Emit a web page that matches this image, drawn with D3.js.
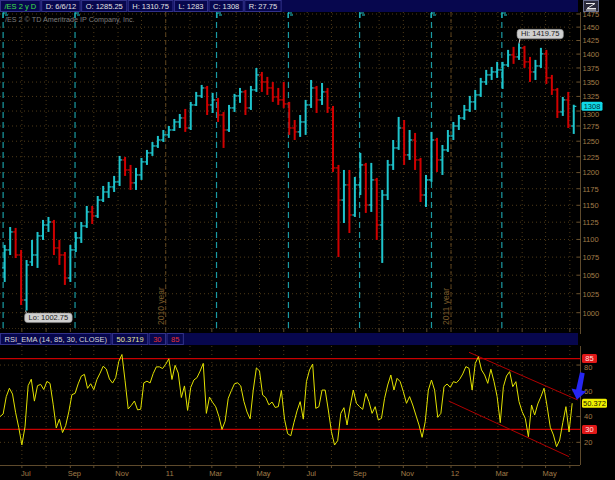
<!DOCTYPE html>
<html><head><meta charset="utf-8">
<script src="https://cdn.jsdelivr.net/npm/d3@7"></script>
<style>
html,body{margin:0;padding:0;background:#000;}
svg{display:block;font-family:"Liberation Sans",Arial,sans-serif;}
</style></head><body>
<svg id="c" width="615" height="480"></svg>
<script>
// ---------- DATA ----------
const firstBarMid = "2010-06-09"; // Wednesday of first weekly bar
const opens = [1060.0,1085.1,1110.8,1078.0,1016.7,1068.2,1078.0,1105.1,1120.9,1125.3,1087.9,1078.0,1046.2,1085.1,1102.2,1119.5,1140.1,1134.2,1157.9,1170.1,1177.8,1185.5,1219.9,1204.1,1184.0,1196.3,1216.8,1231.1,1242.3,1252.0,1260.3,1268.4,1281.7,1288.4,1271.7,1310.4,1325.9,1339.7,1310.4,1319.0,1293.4,1268.4,1305.3,1325.9,1332.8,1305.3,1336.3,1362.6,1350.2,1339.7,1324.1,1319.0,1312.1,1271.7,1265.2,1281.7,1310.4,1339.7,1319.0,1332.8,1301.9,1207.3,1157.9,1180.9,1135.6,1180.9,1212.0,1150.5,1188.6,1120.9,1165.5,1212.0,1239.1,1271.7,1227.9,1252.0,1219.9,1165.5,1188.6,1252.0,1219.9,1235.9,1258.6,1275.0,1288.4,1301.9,1315.6,1327.6,1350.2,1362.6,1367.9,1371.5,1380.4,1398.6,1394.9,1411.4,1385.9,1367.9,1378.6,1400.4,1357.3,1336.3,1298.5,1319.0,1275.0];
const highs = [1092.2,1118.0,1116.6,1085.1,1071.0,1099.3,1110.8,1128.3,1132.7,1128.3,1099.3,1082.2,1092.2,1110.8,1125.3,1149.0,1149.0,1164.0,1179.3,1185.5,1194.8,1226.3,1224.7,1212.0,1207.3,1223.1,1235.9,1248.7,1258.6,1268.4,1275.0,1286.7,1295.1,1303.6,1315.6,1332.8,1345.0,1343.2,1331.1,1322.4,1298.5,1310.4,1329.4,1339.7,1336.3,1343.2,1375.0,1367.9,1359.1,1350.2,1339.7,1350.2,1315.6,1285.0,1293.4,1319.0,1353.7,1343.2,1348.4,1339.7,1308.7,1212.0,1204.1,1204.1,1193.2,1231.1,1215.2,1215.2,1191.7,1173.2,1219.9,1252.0,1290.1,1285.0,1268.4,1263.5,1223.1,1196.3,1265.2,1255.4,1243.9,1268.4,1281.7,1293.4,1310.4,1325.9,1336.3,1357.3,1371.5,1376.8,1385.9,1385.9,1407.7,1413.2,1419.75,1415.1,1394.9,1389.5,1411.4,1407.7,1362.6,1339.7,1324.1,1332.8,1310.75];
const lows = [1040.8,1078.0,1073.8,1010.1,1002.75,1062.7,1060.0,1099.3,1110.8,1078.0,1064.1,1036.8,1040.8,1082.2,1095.0,1116.6,1122.4,1131.2,1154.9,1161.0,1170.1,1179.3,1194.8,1173.2,1173.2,1188.6,1212.0,1226.3,1239.1,1248.7,1255.4,1266.8,1271.7,1265.2,1268.4,1308.7,1322.4,1293.4,1296.8,1281.7,1239.1,1265.2,1298.5,1313.9,1293.4,1301.9,1332.8,1332.8,1327.6,1315.6,1310.4,1305.3,1260.3,1252.0,1257.0,1260.3,1305.3,1296.8,1310.4,1296.8,1201.0,1075.1,1123.8,1109.3,1132.7,1165.5,1138.6,1140.1,1099.3,1066.9,1157.9,1204.1,1235.9,1212.0,1219.9,1204.1,1154.9,1147.5,1185.5,1201.0,1196.3,1232.7,1252.0,1268.4,1285.0,1298.5,1301.9,1324.1,1345.0,1353.7,1357.3,1338.0,1376.8,1382.3,1389.5,1375.0,1350.2,1353.7,1375.0,1346.7,1327.6,1288.4,1291.8,1271.7,1261.9];
const closes = [1085.1,1110.8,1078.0,1016.7,1064.1,1078.0,1105.1,1120.9,1125.3,1087.9,1078.0,1046.2,1085.1,1102.2,1119.5,1140.1,1134.2,1157.9,1170.1,1177.8,1185.5,1219.9,1204.1,1184.0,1196.3,1216.8,1231.1,1242.3,1252.0,1260.3,1268.4,1281.7,1288.4,1271.7,1310.4,1325.9,1339.7,1310.4,1319.0,1293.4,1268.4,1305.3,1325.9,1332.8,1305.3,1336.3,1362.6,1350.2,1339.7,1324.1,1319.0,1312.1,1271.7,1265.2,1281.7,1310.4,1339.7,1319.0,1332.8,1305.3,1207.3,1157.9,1180.9,1135.6,1180.9,1212.0,1150.5,1188.6,1120.9,1165.5,1212.0,1239.1,1271.7,1227.9,1252.0,1219.9,1165.5,1188.6,1252.0,1219.9,1235.9,1258.6,1275.0,1288.4,1301.9,1315.6,1327.6,1350.2,1362.6,1367.9,1371.5,1380.4,1398.6,1394.9,1411.4,1385.9,1367.9,1378.6,1400.4,1357.3,1336.3,1298.5,1319.0,1275.0,1308.0];

const rsiStart = "2010-06-03"; // one RSI sample every 4 days
const rsiValues = [40,42,55.5,62,57.5,43,31.5,18,32,64,69,52,64,65,61,67.3,65.8,49.6,31.2,38,27.6,33,43.6,57,58,65.4,71.4,72.8,61.9,65.5,60.9,68.8,73.7,79.1,76.9,69.2,66,70.2,82.9,88.2,67.8,45.9,48.7,52.1,45.2,45.7,66.2,67.5,66.1,73.4,78.6,78.6,77.3,80.6,84.9,68.8,79.8,73.8,54.8,63.8,44.8,62.6,68.4,70.2,75.3,81.3,42.5,55.1,51,47.6,40.2,30,36.4,54.2,60.2,65.5,66.2,63.8,51.8,43.6,38.2,60.6,77.8,75.4,56.7,54.7,49.1,51.3,47.1,47.7,60.2,37.9,26.7,25.1,35.2,44.4,51.6,38,67.1,76.2,80.8,46.4,47.7,60.6,60.6,45.1,28.3,17.9,21.3,42.5,46.9,33.5,48.2,60.6,50.3,47.7,45.6,58,51.6,42.5,47.7,37.3,38.6,54.2,64.5,72.3,60.6,69.7,67.1,59.3,50.3,55.5,49,41.2,33.5,23.9,36,60.6,68.4,60.6,39.4,42.5,63.2,65.3,62.7,67.1,66.3,68.9,73.1,78.8,77.5,60.6,81.3,86.5,76.2,72.3,65.8,76.7,67.1,55.5,35.3,63.2,71.5,74.9,63.2,67.1,51.6,43.8,38.6,24.4,49,41.2,49.8,55.5,62,47.7,31.7,25.7,16.6,21.8,35.3,47.7,28,50.37];

const priceTicks = [1000,1025,1050,1075,1100,1125,1150,1175,1200,1225,1250,1275,1300,1325,1350,1375,1400,1425,1450,1475];
const rsiTicks = [20,40,60,80];
const rsiLevels = [85,30];
const monthLabels = ["Jul","Sep","Nov","11","Mar","May","Jul","Sep","Nov","12","Mar","May"];
const monthLabelDates = ["2010-07-01","2010-09-01","2010-11-01","2011-01-01","2011-03-01","2011-05-01","2011-07-01","2011-09-01","2011-11-01","2012-01-01","2012-03-01","2012-05-01"];
const expiryDates = ["2010-06-07","2010-09-07","2011-03-07","2011-06-07","2011-09-06","2011-12-07","2012-03-06"];
const yearLineDates = ["2011-01-01","2012-01-01"];
const yearLineLabels = ["2010 year","2011 year"];
const headerItems = ["/ES 2 y D","D: 6/6/12","O: 1285.25","H: 1310.75","L: 1283","C: 1308","R: 27.75"];
const rsiHeaderItems = ["RSI_EMA (14, 85, 30, CLOSE)","50.3719","30","85"];
const channelUpper = [["2012-01-24",89.9],["2012-06-11",52.9]];
const channelLower = [["2011-12-29",52.1],["2012-05-31",8.9]];
const lastPrice = 1308, lastRsi = 50.372;
const hiInfo = {idx:94, label:"Hi: 1419.75"}, loInfo = {idx:4, label:"Lo: 1002.75"};
const arrowPts = {tail:["2012-06-17",74], tip:["2012-06-10",53]};

// ---------- SETUP ----------
const P = d3.timeParse("%Y-%m-%d");
const svg = d3.select("#c");
const W = 615, H = 480;
const AX = 580; // right axis position
const priceTop = 12, priceBot = 328, rsiTop = 346, rsiBot = 465;
const tan = "#a07c48", grid = "#4e3a18", cyan = "#1ec4cc", red = "#d00000";

svg.append("rect").attr("width", W).attr("height", H).attr("fill", "#000");

const x = d3.scaleTime().domain([P("2010-06-03"), P("2012-06-14")]).range([0, AX]);
const yP = d3.scaleLog().domain([1000, 1475]).range([312.7, 14]);
const yR = d3.scaleLinear().domain([0, 100]).range([468.1, 339.3]);

const defs = svg.append("defs");
defs.append("clipPath").attr("id","cp").append("rect").attr("x",0).attr("y",priceTop).attr("width",AX).attr("height",priceBot-priceTop);
defs.append("clipPath").attr("id","cr").append("rect").attr("x",0).attr("y",rsiTop).attr("width",AX).attr("height",rsiBot-rsiTop);

const months = d3.timeMonth.range(P("2010-07-01"), P("2012-06-02"));

// ---------- PRICE PANEL ----------
const gp = svg.append("g").attr("clip-path","url(#cp)");
gp.selectAll("line.hg").data(priceTicks).join("line")
  .attr("x1",0).attr("x2",AX).attr("y1",d=>yP(d)).attr("y2",d=>yP(d))
  .attr("stroke",grid).attr("stroke-dasharray","1,3");
gp.selectAll("line.vg").data(months).join("line")
  .attr("x1",d=>x(d)).attr("x2",d=>x(d)).attr("y1",priceTop).attr("y2",priceBot)
  .attr("stroke",grid).attr("stroke-dasharray","1,3");
// year lines
gp.selectAll("line.yl").data(yearLineDates).join("line")
  .attr("x1",d=>x(P(d))).attr("x2",d=>x(P(d))).attr("y1",priceTop).attr("y2",priceBot)
  .attr("stroke","#5e4420").attr("stroke-dasharray","4,3");
gp.selectAll("text.yt").data(yearLineDates).join("text")
  .attr("transform",d=>`translate(${x(P(d))-2},${priceBot-3}) rotate(-90)`)
  .attr("fill","#7a5a2a").attr("font-size",8.5).text((d,i)=>yearLineLabels[i]);
// expiry lines
gp.selectAll("line.ex").data(expiryDates).join("line")
  .attr("x1",d=>x(P(d))).attr("x2",d=>x(P(d))).attr("y1",priceTop).attr("y2",priceBot)
  .attr("stroke","#1a9aa2").attr("stroke-width",1.2).attr("stroke-dasharray","6,4");
gp.selectAll("path.exm").data(expiryDates).join("path")
  .attr("d",d=>{const xx=Math.round(x(P(d)));return `M${xx},${priceTop+6}V${priceTop+1}H${xx+4}M${xx+2},${priceTop+3}H${xx+5}`;})
  .attr("fill","none").attr("stroke",cyan).attr("stroke-width",1);

// copyright
svg.append("text").attr("x",5).attr("y",22).attr("fill","#7c7c7c").attr("font-size",7.2)
  .text("/ES 2 © TD Ameritrade IP Company, Inc.");

// bars
const bars = opens.map((o,i)=>({o, h:highs[i], l:lows[i], c:closes[i], d:d3.timeDay.offset(P(firstBarMid), 7*i)}));
const gb = gp.append("g");
const bg = gb.selectAll("g").data(bars).join("g")
  .attr("stroke", d=> d.c >= d.o ? cyan : red).attr("stroke-width",2);
bg.append("line").attr("x1",d=>x(d.d)).attr("x2",d=>x(d.d)).attr("y1",d=>yP(d.h)).attr("y2",d=>yP(d.l));
bg.append("line").attr("x1",d=>x(d.d)-2.6).attr("x2",d=>x(d.d)).attr("y1",d=>yP(d.o)).attr("y2",d=>yP(d.o)).attr("stroke-width",1.2);
bg.append("line").attr("x1",d=>x(d.d)).attr("x2",d=>x(d.d)+2.6).attr("y1",d=>yP(d.c)).attr("y2",d=>yP(d.c)).attr("stroke-width",1.2);

// Hi / Lo bubbles
function bubble(bx, by, txt){
  const g = svg.append("g");
  const t = g.append("text").attr("x",bx+4).attr("y",by+7).attr("font-size",7.5).attr("fill","#1c1c1c").text(txt);
  const w = t.node().getComputedTextLength()+8;
  g.insert("rect","text").attr("x",bx).attr("y",by).attr("width",w).attr("height",9.5).attr("rx",3)
   .attr("fill","#cfcfcf").attr("stroke","#8a8a8a").attr("stroke-width",0.6);
  return g;
}
{
  const b = bars[hiInfo.idx]; const hx = x(b.d), hy = yP(b.h);
  svg.append("line").attr("x1",hx).attr("y1",hy).attr("x2",hx+1).attr("y2",hy-5).attr("stroke","#cfcfcf");
  bubble(hx-2, hy-14, hiInfo.label);
  const l = bars[loInfo.idx]; const lx = x(l.d), ly = yP(l.l);
  svg.append("line").attr("x1",lx-1).attr("y1",ly).attr("x2",lx).attr("y2",ly+3).attr("stroke","#cfcfcf");
  bubble(lx-2, ly+2.5, loInfo.label);
}

// price axis
svg.append("line").attr("x1",AX+0.5).attr("x2",AX+0.5).attr("y1",priceTop).attr("y2",priceBot+6).attr("stroke","#5e4a2c");
const pa = svg.append("g");
pa.selectAll("line").data(priceTicks).join("line")
  .attr("x1",AX-3).attr("x2",AX+1).attr("y1",d=>yP(d)).attr("y2",d=>yP(d)).attr("stroke","#6a5230");
pa.selectAll("text").data(priceTicks).join("text")
  .attr("x",AX+2.5).attr("y",d=> Math.abs(yP(d)-yP(lastPrice))<6 ? yP(lastPrice)+11 : yP(d)+2.8)
  .attr("fill",tan).attr("font-size",7.5).text(d=>d);
// last price box
{
  const ly = yP(lastPrice);
  svg.append("rect").attr("x",AX+1.5).attr("y",ly-4.5).attr("width",21).attr("height",9).attr("rx",1.5).attr("fill","#10d8e6");
  svg.append("text").attr("x",AX+12).attr("y",ly+2.8).attr("text-anchor","middle").attr("font-size",7.5).attr("fill","#04303a").text(lastPrice);
}
// bottom ticks of price panel
svg.append("line").attr("x1",0).attr("x2",AX).attr("y1",priceBot+0.5).attr("y2",priceBot+0.5).attr("stroke","#3a2c14").attr("stroke-dasharray","1,2");
svg.selectAll("line.pbt").data(months).join("line").attr("class","pbt")
  .attr("x1",d=>x(d)).attr("x2",d=>x(d)).attr("y1",priceBot).attr("y2",priceBot+4).attr("stroke","#5e4a2c");

// ---------- HEADER ----------
svg.append("rect").attr("x",0).attr("y",0).attr("width",578).attr("height",12).attr("fill","#07074e");
{
  let cx = 0.5;
  headerItems.forEach((s,i)=>{
    const g = svg.append("g");
    const t = g.append("text").attr("x",cx+4).attr("y",8.8).attr("font-size",7.5)
      .attr("fill", i===0 ? "#3ee04a" : "#e2e2e2").text(s);
    const w = t.node().getComputedTextLength()+8;
    g.insert("rect","text").attr("x",cx).attr("y",0.5).attr("width",w).attr("height",11)
      .attr("fill","#07074e").attr("stroke","#32328a").attr("stroke-width",1);
    cx += w + 1.5;
  });
}
// top-right icon
svg.append("rect").attr("x",583.5).attr("y",0.5).attr("width",15).attr("height",11).attr("fill","#2a2a3a").attr("stroke","#6a7090");
svg.append("path").attr("d","M586,3.5H595L587,8.5H596M586,10H596").attr("fill","none").attr("stroke","#e8e8e8").attr("stroke-width",1);

// ---------- RSI HEADER ----------
svg.append("rect").attr("x",0).attr("y",333).attr("width",578).attr("height",12).attr("fill","#07074e");
{
  let cx = 0.5;
  const cols = ["#d6d6d6","#e6e6a0","#e83030","#e83030"];
  rsiHeaderItems.forEach((s,i)=>{
    const g = svg.append("g");
    const t = g.append("text").attr("x",cx+4).attr("y",342).attr("font-size",7.5).attr("fill",cols[i]).text(s);
    const w = t.node().getComputedTextLength()+8;
    g.insert("rect","text").attr("x",cx).attr("y",333.5).attr("width",w).attr("height",11)
      .attr("fill","#07074e").attr("stroke","#32328a").attr("stroke-width",1);
    cx += w + 1.5;
  });
}

// ---------- RSI PANEL ----------
const gr = svg.append("g").attr("clip-path","url(#cr)");
gr.selectAll("line.hg").data(rsiTicks).join("line")
  .attr("x1",0).attr("x2",AX).attr("y1",d=>yR(d)).attr("y2",d=>yR(d))
  .attr("stroke",grid).attr("stroke-dasharray","1,3");
gr.selectAll("line.vg").data(months).join("line")
  .attr("x1",d=>x(d)).attr("x2",d=>x(d)).attr("y1",rsiTop).attr("y2",rsiBot)
  .attr("stroke",grid).attr("stroke-dasharray","1,3");
gr.selectAll("line.lv").data(rsiLevels).join("line")
  .attr("x1",0).attr("x2",AX).attr("y1",d=>yR(d)).attr("y2",d=>yR(d))
  .attr("stroke","#c80000").attr("stroke-width",1.2);
// channel
[channelUpper, channelLower].forEach(c=>{
  gr.append("line").attr("x1",x(P(c[0][0]))).attr("y1",yR(c[0][1])).attr("x2",x(P(c[1][0]))).attr("y2",yR(c[1][1]))
    .attr("stroke","#b00000").attr("stroke-width",1);
});
const rsiData = rsiValues.map((v,i)=>({d:d3.timeDay.offset(P(rsiStart), 4*i), v}));
gr.append("path").datum(rsiData)
  .attr("d", d3.line().x(d=>x(d.d)).y(d=>yR(d.v)))
  .attr("fill","none").attr("stroke","#e2e200").attr("stroke-width",1);

// RSI axis
svg.append("line").attr("x1",AX+0.5).attr("x2",AX+0.5).attr("y1",rsiTop).attr("y2",rsiBot).attr("stroke","#5e4a2c");
svg.selectAll("line.rt").data(rsiTicks).join("line").attr("class","rt")
  .attr("x1",AX-3).attr("x2",AX+1).attr("y1",d=>yR(d)).attr("y2",d=>yR(d)).attr("stroke","#6a5230");
svg.selectAll("text.rt").data(rsiTicks).join("text").attr("class","rt")
  .attr("x",AX+4).attr("y",d=>yR(d)+(d===80?4.5:2.8)).attr("fill",tan).attr("font-size",7.5).text(d=>d);
// level boxes
rsiLevels.forEach(v=>{
  svg.append("rect").attr("x",AX+2).attr("y",yR(v)-4.5).attr("width",15).attr("height",9).attr("rx",1.5).attr("fill","#e01818");
  svg.append("text").attr("x",AX+9.5).attr("y",yR(v)+2.8).attr("text-anchor","middle").attr("font-size",7.5).attr("fill","#ffe0e0").text(v);
});
svg.append("rect").attr("x",AX+2).attr("y",yR(lastRsi)-4.5).attr("width",25).attr("height",9).attr("rx",1.5).attr("fill","#f0f000");
svg.append("text").attr("x",AX+14.5).attr("y",yR(lastRsi)+2.8).attr("text-anchor","middle").attr("font-size",7.5).attr("fill","#202000").text(lastRsi);

// blue arrow
{
  const tx = x(P(arrowPts.tail[0])), ty = yR(arrowPts.tail[1]);
  const px = x(P(arrowPts.tip[0])), py = yR(arrowPts.tip[1]);
  const ang = Math.atan2(py-ty, px-tx);
  const len = Math.hypot(px-tx, py-ty);
  const g = svg.append("g").attr("transform",`translate(${px},${py}) rotate(${ang*180/Math.PI})`);
  g.append("path").attr("d",`M0,0L-10,-7.5L-10,-2.8L${-len},-2.4L${-len},2.4L-10,2.8L-10,7.5Z`).attr("fill","#2626f2");
}

// bottom axis
svg.append("line").attr("x1",0).attr("x2",AX).attr("y1",rsiBot+0.5).attr("y2",rsiBot+0.5).attr("stroke","#5e4a2c");
svg.selectAll("line.bt").data(months).join("line").attr("class","bt")
  .attr("x1",d=>x(d)).attr("x2",d=>x(d)).attr("y1",rsiBot).attr("y2",rsiBot+3).attr("stroke","#5e4a2c");
svg.selectAll("text.bl").data(monthLabelDates).join("text").attr("class","bl")
  .attr("x",d=>x(P(d))+4).attr("y",476).attr("text-anchor","middle").attr("fill",tan).attr("font-size",7.5)
  .text((d,i)=>monthLabels[i]);
</script>
</body></html>
